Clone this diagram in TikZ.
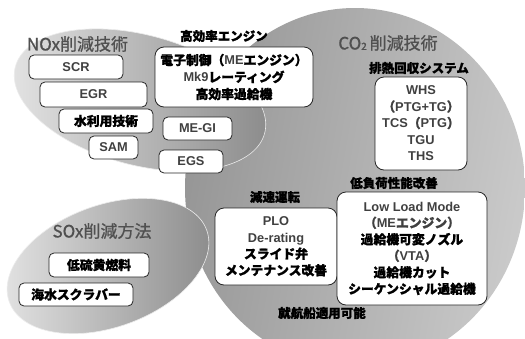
\documentclass[tikz,border=0pt]{standalone}
\usepackage{fontspec}
\setmainfont{Liberation Sans}
\newfontfamily\jp{Noto Sans CJK JP}[BoldFeatures={FakeBold=1.2}]
\newfontfamily\jpt{Noto Sans CJK JP}[FakeBold=0.9]
\usetikzlibrary{shapes.geometric}
\definecolor{txtgray}{HTML}{404040}
\definecolor{ttlgray}{HTML}{505050}
\definecolor{coA}{HTML}{969696}
\definecolor{coM}{HTML}{B0B0B0}
\definecolor{coB}{HTML}{CACACA}
\definecolor{noA}{HTML}{E4E4E4}
\definecolor{noM}{HTML}{CFCFCF}
\definecolor{noB}{HTML}{8A8A8A}
\newcommand\jpb[1]{{\jp\bfseries\color{black}#1}}
\tikzset{
  bx/.style={draw=black!85, line width=0.8pt, fill=white, rounded corners=5pt,
    inner sep=0pt, align=center, text=txtgray,
    font=\bfseries\fontsize{12.8}{16.5}\selectfont},
  bigbx/.style={bx, rounded corners=9pt},
  ttl/.style={font=\jpt\fontsize{17}{17}\selectfont, text=ttlgray, inner sep=0pt},
  hd/.style={font=\jp\bfseries\fontsize{12.5}{12.5}\selectfont, text=black, inner sep=0pt},
}
\begin{document}
\begin{tikzpicture}[x=1pt,y=-1pt]
\useasboundingbox (0,0) rectangle (525,338);
\fill[white] (0,0) rectangle (525,338);
% CO2 circle
\shade[left color=coA, middle color=coM, right color=coB, shading angle=80]
  (355,188) ellipse [x radius=170, y radius=180];
% NOx ellipse
\shade[rotate around={-15:(140,100)}, left color=noA, middle color=noM, right color=noB]
  (140,100) ellipse [x radius=129, y radius=65];
\draw[white!85!gray, line width=0.6pt, rotate around={-15:(140,100)}]
  (140,100) ellipse [x radius=129, y radius=65];
% SOx ellipse
\shade[rotate around={20:(108,266)}, left color=noA, middle color=noM, right color=noB]
  (108,266) ellipse [x radius=105, y radius=61];
\draw[white!85!gray, line width=0.6pt, rotate around={20:(108,266)}]
  (108,266) ellipse [x radius=105, y radius=61];

% titles
\node[ttl] (tnox) at (77.5,44) {NOx削減技術};
\node[ttl] (tco2) at (388,43) {CO\raisebox{-0.5pt}{\fontsize{10}{10}\selectfont 2}\,削減技術};
\node[ttl] (tsox) at (102,231) {SOx削減方法};

% headers
\node[hd] (hhe) at (224,36) {高効率エンジン};
\node[hd] (hwh) at (419,68) {排熱回収システム};
\node[hd] (hll) at (394,183) {低負荷性能改善};
\node[hd] (hsl) at (275,197) {減速運転};
\node[hd] (hex) at (322,313) {就航船適用可能};

% NOx boxes
\node[bx, minimum width=94pt, minimum height=24pt] (scr) at (76,67) {SCR};
\node[bx, minimum width=107pt, minimum height=25pt] (egr) at (93.5,94.5) {EGR};
\node[bx, minimum width=94pt, minimum height=24pt] (wat) at (106,121) {\jpb{水利用技術}};
\node[bx, minimum width=49pt, minimum height=23pt] (sam) at (113.5,147.5) {SAM};
\node[bx, minimum width=69pt, minimum height=23pt] (megi) at (197.5,128.5) {ME-GI};
\node[bx, minimum width=64pt, minimum height=23pt] (egs) at (191,161.5) {EGS};

% high efficiency box
\node[bigbx, minimum width=158pt, minimum height=60pt] (hie) at (234,77)
  {\jpb{電子制御（}ME\jpb{エンジン）}\\[0.5pt]Mk9\jpb{レーティング}\\[0.5pt]\jpb{高効率過給機}};

% waste heat box
\node[bigbx, minimum width=92pt, minimum height=93pt] (whr) at (421,123.5)
  {WHS\\{\jp （}PTG+TG{\jp ）}\\TCS{\jp （}PTG{\jp ）}\\TGU\\THS};

% PLO box
\node[bigbx, minimum width=122pt, minimum height=77pt] (plo) at (276,246.5)
  {PLO\\De-rating\\\jpb{スライド弁}\\\jpb{メンテナンス改善}};

% low load box
\node[bigbx, minimum width=150pt, minimum height=113pt] (llm) at (412,248.5)
  {Low Load Mode\\{\jp （}ME{\jp エンジン）}\\\jpb{過給機可変ノズル}\\{\jp （}VTA{\jp ）}\\\jpb{過給機カット}\\\jpb{シーケンシャル過給機}};

% SOx boxes
\node[bx, minimum width=100pt, minimum height=24pt] (lsf) at (99,265) {\jpb{低硫黄燃料}};
\node[bx, minimum width=114pt, minimum height=23pt] (scb) at (76,294.5) {\jpb{海水スクラバー}};
\end{tikzpicture}
\end{document}
